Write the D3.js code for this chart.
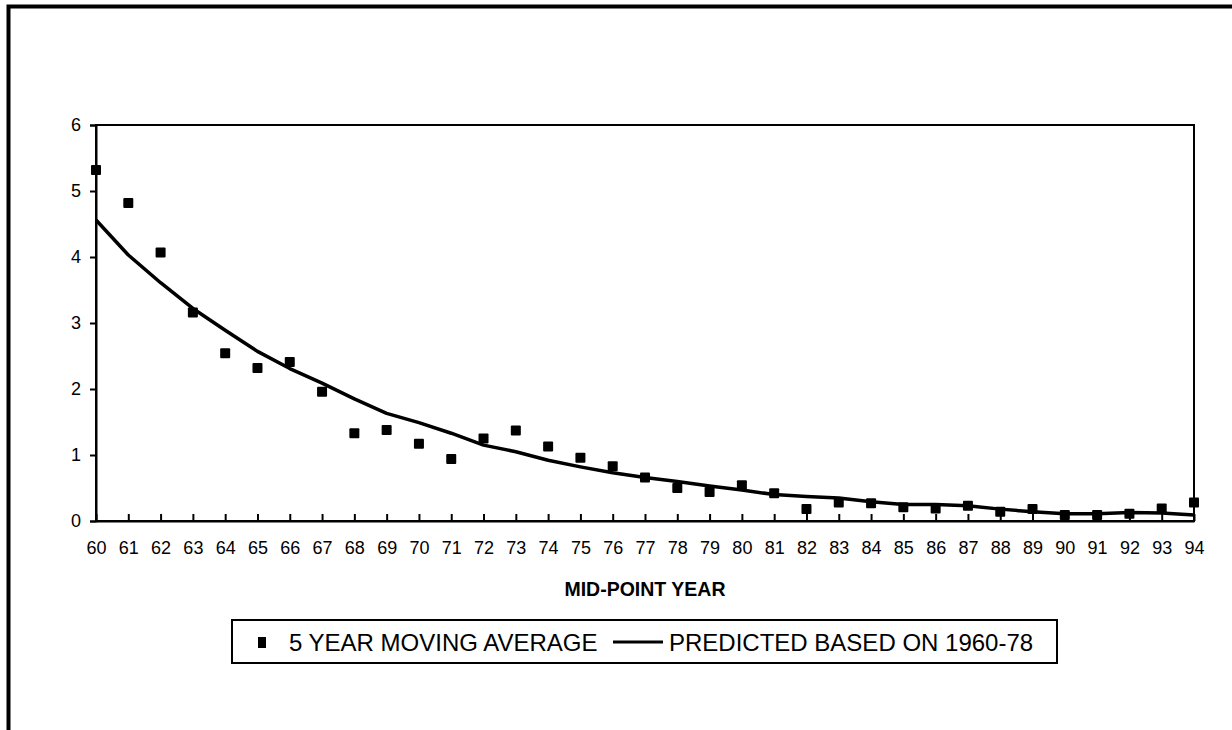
<!DOCTYPE html>
<html>
<head>
<meta charset="utf-8">
<script src="https://cdn.jsdelivr.net/npm/d3@7"></script>
<style>
  body { margin: 0; background: #fff; }
  text { font-family: "Liberation Sans", Arial, sans-serif; fill: #000; }
  .axis text { font-size: 18px; font-family: "Liberation Sans", Arial, sans-serif; }
</style>
</head>
<body>
<div id="chart-holder"></div>
<script>
// mid-point years (two-digit labels)
var years = d3.range(60, 95);

// 5 year moving average (square markers)
var movingAvg = [5.32, 4.82, 4.07, 3.16, 2.54, 2.32, 2.41, 1.96, 1.33, 1.38,
  1.17, 0.94, 1.25, 1.37, 1.13, 0.96, 0.83, 0.66, 0.50, 0.44,
  0.54, 0.42, 0.18, 0.28, 0.27, 0.21, 0.19, 0.23, 0.14, 0.18,
  0.09, 0.09, 0.11, 0.19, 0.28];

// predicted based on 1960-78 (line)
var predicted = [4.56, 4.03, 3.61, 3.22, 2.89, 2.57, 2.31, 2.09, 1.85, 1.63,
  1.49, 1.33, 1.15, 1.05, 0.92, 0.82, 0.73, 0.66, 0.60, 0.53,
  0.47, 0.40, 0.37, 0.35, 0.29, 0.25, 0.25, 0.23, 0.18, 0.14,
  0.11, 0.11, 0.13, 0.12, 0.09];

var yTicks = [0, 1, 2, 3, 4, 5, 6];

var svg = d3.select("#chart-holder")
  .append("svg")
  .attr('width', 1232)
  .attr('height', 730);

// outer frame (runs off the picture to right and bottom)
svg.append("rect")
  .attr('x', 8.5)
  .attr('y', 6.5)
  .attr('width', 1400)
  .attr('height', 900)
  .attr('fill', 'none')
  .attr('stroke', '#000')
  .attr('stroke-width', 4);

// plot area
var plotLeft = 96, plotTop = 125, plotRight = 1194, plotBottom = 521;

var x = d3.scaleLinear().domain([60, 94]).range([plotLeft, plotRight]);
var y = d3.scaleLinear().domain([0, 6]).range([plotBottom, plotTop]);

svg.append("rect")
  .attr('x', plotLeft)
  .attr('y', plotTop)
  .attr('width', plotRight - plotLeft)
  .attr('height', plotBottom - plotTop)
  .attr('fill', 'none')
  .attr('stroke', '#000')
  .attr('stroke-width', 2);

// y axis
var yAxis = svg.append("g")
  .attr('class', 'axis')
  .attr('transform', 'translate(' + plotLeft + ',0)')
  .call(d3.axisLeft(y).tickValues(yTicks).tickFormat(d3.format("d")).tickSize(6).tickPadding(9));
yAxis.attr('font-size', 18);
yAxis.select(".domain").attr('stroke-width', 2);
yAxis.selectAll(".tick line").attr('stroke-width', 2);

// x axis, ticks pointing inward
var xAxis = svg.append("g")
  .attr('class', 'axis')
  .attr('transform', 'translate(0,' + plotBottom + ')')
  .call(d3.axisBottom(x).tickValues(years).tickFormat(d3.format("d"))
    .tickSizeInner(-7).tickSizeOuter(0).tickPadding(20));
xAxis.attr('font-size', 18);
xAxis.select(".domain").attr('stroke-width', 2);
xAxis.selectAll(".tick line").attr('stroke-width', 2);

// axis title
svg.append("text")
  .attr('x', 645)
  .attr('y', 596)
  .attr('text-anchor', 'middle')
  .style('font-size', '19.5px')
  .style('font-weight', 'bold')
  .text("MID-POINT YEAR");

// predicted line
var line = d3.line()
  .x(function(d, i) { return x(years[i]); })
  .y(function(d) { return y(d); });

svg.append("path")
  .datum(predicted)
  .attr('d', line)
  .attr('fill', 'none')
  .attr('stroke', '#000')
  .attr('stroke-width', 3.5)
  .attr('stroke-linejoin', 'round');

// moving average squares
var markSize = 10;
svg.selectAll("rect.mark")
  .data(movingAvg)
  .enter()
  .append("rect")
  .attr('class', 'mark')
  .attr('x', function(d, i) { return x(years[i]) - markSize / 2; })
  .attr('y', function(d) { return y(d) - markSize / 2; })
  .attr('width', markSize)
  .attr('height', markSize)
  .attr('rx', 1)
  .attr('fill', '#000');

// legend
var legend = svg.append("g");
legend.append("rect")
  .attr('x', 232)
  .attr('y', 620)
  .attr('width', 825)
  .attr('height', 43)
  .attr('fill', '#fff')
  .attr('stroke', '#000')
  .attr('stroke-width', 2);
legend.append("rect")
  .attr('x', 258)
  .attr('y', 637)
  .attr('width', 8)
  .attr('height', 11)
  .attr('fill', '#000');
legend.append("text")
  .attr('x', 289)
  .attr('y', 650.5)
  .style('font-size', '24px')
  .text("5 YEAR MOVING AVERAGE");
legend.append("line")
  .attr('x1', 613)
  .attr('x2', 663)
  .attr('y1', 642)
  .attr('y2', 642)
  .attr('stroke', '#000')
  .attr('stroke-width', 3);
legend.append("text")
  .attr('x', 669)
  .attr('y', 650.5)
  .style('font-size', '24px')
  .text("PREDICTED BASED ON 1960-78");
</script>
</body>
</html>
